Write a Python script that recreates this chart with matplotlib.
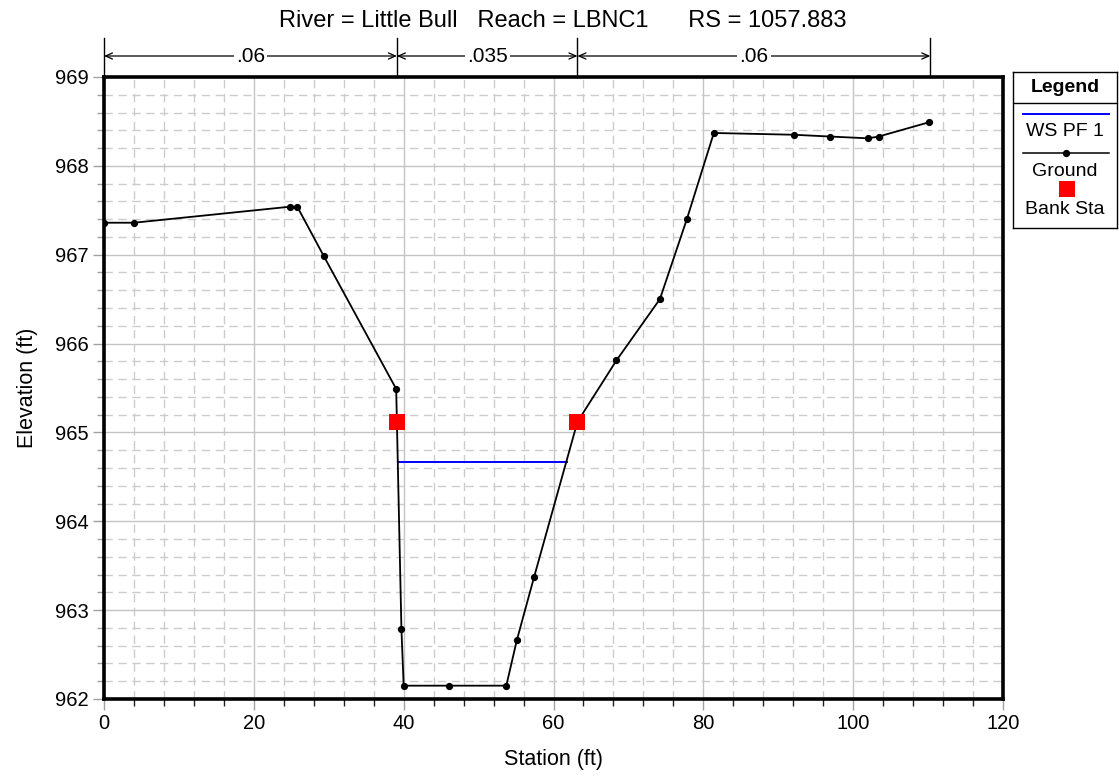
import matplotlib
matplotlib.use("Agg")
import matplotlib.pyplot as plt
from matplotlib.ticker import MultipleLocator
from matplotlib.transforms import blended_transform_factory

plt.rcParams['font.family'] = ['Liberation Sans', 'DejaVu Sans']

# ---- data ----
ground_sta = [0.0, 4.0, 24.8, 25.8, 29.3, 39.0, 39.7, 40.0, 46.0, 53.7, 55.1, 57.4,
              63.2, 68.4, 74.2, 77.8, 81.4, 92.1, 96.9, 102.0, 103.4, 110.1]
ground_elev = [967.36, 967.36, 967.54, 967.54, 966.99, 965.49, 962.79, 962.15, 962.15, 962.15, 962.66, 963.37,
               965.12, 965.81, 966.50, 967.40, 968.37, 968.35, 968.33, 968.31, 968.33, 968.49]
ground_marker_idx = [0, 1, 2, 3, 4, 5, 6, 7, 8, 9, 10, 11, 13, 14, 15, 16, 17, 18, 19, 20, 21]
bank_sta = [39.1, 63.2]
bank_elev = [965.12, 965.12]
ws_sta = [39.4, 61.8]
ws_elev = [964.67, 964.67]
n_breaks = [0.0, 39.1, 63.2, 110.3]
n_values = [".06", ".035", ".06"]
title = "River = Little Bull   Reach = LBNC1      RS = 1057.883"

W, H = 1119, 783
fig = plt.figure(figsize=(W / 100, H / 100), dpi=100)
ax = fig.add_axes([104 / W, 1 - 699 / H, (1003 - 104) / W, (699 - 77) / H])

ax.set_xlim(0, 120)
ax.set_ylim(962, 969)
ax.xaxis.set_major_locator(MultipleLocator(20))
ax.xaxis.set_minor_locator(MultipleLocator(4))
ax.yaxis.set_major_locator(MultipleLocator(1))
ax.yaxis.set_minor_locator(MultipleLocator(0.2))

ax.grid(which='major', color='#c4c4c4', linewidth=1.0, linestyle='-')
ax.grid(which='minor', color='#cccccc', linewidth=1.0, linestyle=(0, (6, 4)))
ax.set_axisbelow(True)

for s in ax.spines.values():
    s.set_linewidth(2.6)
    s.set_color('black')

ax.tick_params(which='major', direction='out', length=8, width=1, color='#a0a0a0', labelsize=14.5, pad=3)
ax.tick_params(which='minor', direction='out', length=5, width=1, color='#202020')
ax.tick_params(axis='y', which='minor', color='#a0a0a0')

# water surface
ax.plot(ws_sta, ws_elev, color='#0000ff', linewidth=1.4, zorder=3)
# ground
ax.plot(ground_sta, ground_elev, color='black', linewidth=1.3, zorder=4)
ax.plot([ground_sta[i] for i in ground_marker_idx], [ground_elev[i] for i in ground_marker_idx],
        linestyle='none', marker='o', markersize=4.2, color='black', zorder=5)
# bank stations
ax.plot(bank_sta, bank_elev, linestyle='none', marker='s', markersize=11.5,
        color='#ff0000', markeredgewidth=0, zorder=6)

ax.set_xlabel("Station (ft)", fontsize=15.5, labelpad=11)
ax.set_ylabel("Elevation (ft)", fontsize=15.5, labelpad=12)

# roughness annotation above plot
trans = blended_transform_factory(ax.transData, ax.transAxes)
ah = 622.0
y_top = 1 + 39 / ah
y_arr = 1 + 21 / ah
for xb in n_breaks:
    ax.plot([xb, xb], [1.0, y_top], transform=trans, color='black', linewidth=1.0, clip_on=False)
for i, lab in enumerate(n_values):
    x0, x1 = n_breaks[i], n_breaks[i + 1]
    ax.annotate("", xy=(x1, y_arr), xytext=(x0, y_arr), xycoords=trans, textcoords=trans,
                arrowprops=dict(arrowstyle='<->,head_length=0.5,head_width=0.22', color='black',
                                linewidth=0.9, shrinkA=0, shrinkB=0), annotation_clip=False)
    ax.text((x0 + x1) / 2, y_arr, lab, transform=trans, ha='center', va='center', fontsize=15,
            bbox=dict(facecolor='white', edgecolor='none', pad=1.5), clip_on=False)

fig.text(563 / W, 1 - 21 / H, title, ha='center', va='center', fontsize=17)

# legend box
lax = fig.add_axes([1013 / W, 1 - 228 / H, 104 / W, 156 / H])
lax.set_xlim(0, 104)
lax.set_ylim(156, 0)
lax.set_xticks([])
lax.set_yticks([])
for s in lax.spines.values():
    s.set_linewidth(1.0)
    s.set_color('black')
lax.text(52, 15, "Legend", ha='center', va='center', fontsize=14, fontweight='bold')
lax.plot([0, 104], [31, 31], color='black', linewidth=1.0)
lax.plot([10, 96], [42, 42], color='#0000ff', linewidth=1.4)
lax.text(52, 59, "WS PF 1", ha='center', va='center', fontsize=14)
lax.plot([10, 96], [81, 81], color='black', linewidth=1.1)
lax.plot([53], [81], marker='o', markersize=4.2, color='black')
lax.text(52, 99, "Ground", ha='center', va='center', fontsize=14)
lax.plot([54], [117], marker='s', markersize=11, color='#ff0000', markeredgewidth=0)
lax.text(52, 137, "Bank Sta", ha='center', va='center', fontsize=14)

fig.savefig("out.png", dpi=100)
